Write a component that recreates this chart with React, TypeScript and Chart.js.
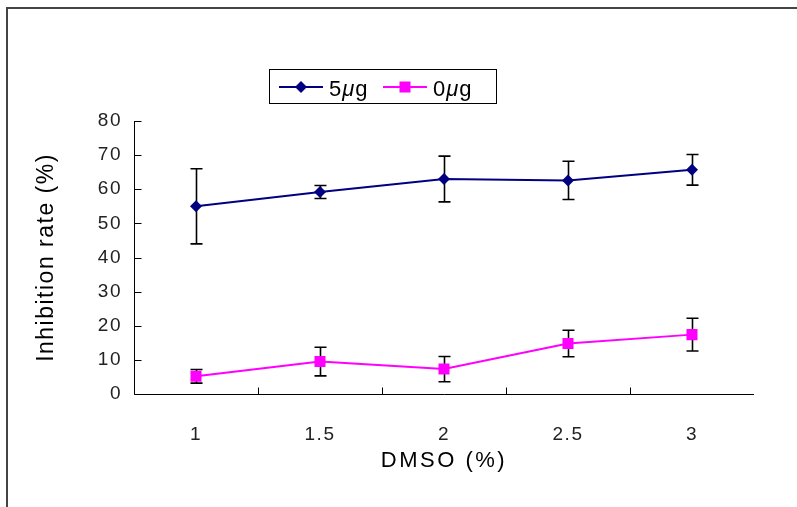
import React, { useEffect, useRef } from 'react';
import { Chart, registerables } from 'chart.js';

Chart.register(...registerables);

const categories = ['1', '1.5', '2', '2.5', '3'];
const seriesALabel = '5μg';
const seriesA = [55.0, 59.2, 63.0, 62.6, 65.7];
const seriesAErr = [11.0, 1.9, 6.7, 5.6, 4.5];
const seriesBLabel = '0μg';
const seriesB = [5.2, 9.5, 7.3, 14.8, 17.4];
const seriesBErr = [2.0, 4.2, 3.7, 3.9, 4.8];
const yMin = 0;
const yMax = 80;
const yStep = 10;
const yTitle = 'Inhibition rate (%)';
const xTitle = 'DMSO (%)';

const errors = [seriesAErr, seriesBErr];
const FONT = '"Liberation Sans", Arial, sans-serif';

const spacing = {
  id: 'spacing',
  beforeDraw(chart: any) {
    (chart.ctx as any).letterSpacing = '1.5px';
  },
  beforeDatasetsDraw(chart: any) {
    (chart.ctx as any).letterSpacing = '0px';
  },
};

const errorBars = {
  id: 'errorBars',
  beforeDatasetsDraw(chart: any) {
    const { ctx } = chart;
    const xs = chart.scales.x;
    const ys = chart.scales.y;
    ctx.save();
    ctx.strokeStyle = '#000';
    ctx.lineWidth = 1.6;
    chart.data.datasets.forEach((ds: any, di: number) => {
      ds.data.forEach((v: number, i: number) => {
        const e = errors[di][i];
        const px = Math.round(xs.getPixelForValue(i)) + 0.5;
        const top = ys.getPixelForValue(v + e);
        const bot = ys.getPixelForValue(v - e);
        ctx.beginPath();
        ctx.moveTo(px, top);
        ctx.lineTo(px, bot);
        ctx.moveTo(px - 6, top);
        ctx.lineTo(px + 6, top);
        ctx.moveTo(px - 6, bot);
        ctx.lineTo(px + 6, bot);
        ctx.stroke();
      });
    });
    ctx.restore();
  },
};

function drawMixed(ctx: CanvasRenderingContext2D, text: string, x: number, y: number, size: number) {
  let cx = x;
  for (const ch of text) {
    ctx.font = (ch === 'μ' ? 'italic ' : '') + size + 'px ' + FONT;
    ctx.fillText(ch, cx, y);
    cx += ctx.measureText(ch).width + 1;
  }
}

const decorations = {
  id: 'decorations',
  afterDraw(chart: any) {
    const { ctx, chartArea } = chart;
    const xs = chart.scales.x;
    const ys = chart.scales.y;
    ctx.save();
    (ctx as any).letterSpacing = '0px';
    // outer frame
    ctx.strokeStyle = '#444';
    ctx.lineWidth = 2;
    ctx.beginPath();
    ctx.moveTo(7, 520);
    ctx.lineTo(7, 8);
    ctx.lineTo(810, 8);
    ctx.stroke();

    // axes
    ctx.strokeStyle = '#000';
    ctx.lineWidth = 1;
    ctx.beginPath();
    const L = Math.round(chartArea.left) + 0.5;
    const B = Math.round(chartArea.bottom) + 0.5;
    ctx.moveTo(L, Math.round(chartArea.top));
    ctx.lineTo(L, B);
    ctx.lineTo(Math.round(chartArea.right), B);
    ys.ticks.forEach((t: any) => {
      const py = Math.round(ys.getPixelForValue(t.value)) + 0.5;
      ctx.moveTo(L, py);
      ctx.lineTo(L + 7, py);
    });
    for (let i = 0; i < categories.length - 1; i++) {
      const px = Math.round((xs.getPixelForValue(i) + xs.getPixelForValue(i + 1)) / 2) + 0.5;
      ctx.moveTo(px, B);
      ctx.lineTo(px, B - 7);
    }
    ctx.stroke();

    // titles
    ctx.fillStyle = '#000';
    (ctx as any).letterSpacing = '2.5px';
    ctx.font = '22px ' + FONT;
    ctx.textAlign = 'center';
    ctx.textBaseline = 'alphabetic';
    ctx.fillText(xTitle, (chartArea.left + chartArea.right) / 2, 467);
    ctx.save();
    (ctx as any).letterSpacing = '1.5px';
    ctx.translate(53, (chartArea.top + chartArea.bottom) / 2);
    ctx.rotate(-Math.PI / 2);
    ctx.font = '23px ' + FONT;
    ctx.fillText(yTitle, 0, 0);
    ctx.restore();
    (ctx as any).letterSpacing = '0px';

    // legend
    ctx.lineWidth = 1;
    ctx.strokeStyle = '#000';
    ctx.strokeRect(269.5, 69.5, 227, 34);
    const items = chart.data.datasets;
    const starts = [279, 383];
    items.forEach((ds: any, i: number) => {
      const x0 = starts[i];
      const ly = 87;
      ctx.strokeStyle = ds.borderColor;
      ctx.lineWidth = 2;
      ctx.beginPath();
      ctx.moveTo(x0, ly);
      ctx.lineTo(x0 + 44, ly);
      ctx.stroke();
      ctx.fillStyle = ds.pointBackgroundColor;
      const cx = x0 + 22;
      ctx.beginPath();
      if (ds.pointStyle === 'rectRot') {
        ctx.moveTo(cx, ly - 6);
        ctx.lineTo(cx + 6, ly);
        ctx.lineTo(cx, ly + 6);
        ctx.lineTo(cx - 6, ly);
        ctx.closePath();
      } else {
        ctx.rect(cx - 5.5, ly - 5.5, 11, 11);
      }
      ctx.fill();
      ctx.fillStyle = '#000';
      ctx.textAlign = 'left';
      drawMixed(ctx, ds.label, x0 + 50, 96, 22);
    });
    ctx.restore();
  },
};

export default function App() {
  const ref = useRef<HTMLCanvasElement | null>(null);
  useEffect(() => {
    if (!ref.current) return;
    const chart = new Chart(ref.current, {
      type: 'line',
      data: {
        labels: categories,
        datasets: [
          {
            label: seriesALabel,
            data: seriesA,
            borderColor: '#000080',
            backgroundColor: '#000080',
            pointBackgroundColor: '#000080',
            pointBorderColor: '#000080',
            pointStyle: 'rectRot',
            pointRadius: 6,
            pointBorderWidth: 0,
            borderWidth: 2,
            tension: 0,
          },
          {
            label: seriesBLabel,
            data: seriesB,
            borderColor: '#FF00FF',
            backgroundColor: '#FF00FF',
            pointBackgroundColor: '#FF00FF',
            pointBorderColor: '#FF00FF',
            pointStyle: 'rect',
            pointRadius: 7.8,
            pointBorderWidth: 0,
            borderWidth: 2,
            tension: 0,
          },
        ],
      },
      options: {
        responsive: false,
        animation: false,
        layout: { padding: { top: 121, right: 43, left: 0, bottom: 0 } },
        plugins: {
          legend: { display: false },
          tooltip: { enabled: false },
        },
        scales: {
          x: {
            type: 'category',
            offset: true,
            grid: { display: false },
            border: { display: false },
            ticks: { color: '#222', font: { size: 19, family: FONT }, padding: 21 },
            afterFit: (s: any) => { s.height = 113; },
          },
          y: {
            min: yMin,
            max: yMax,
            grid: { display: false },
            border: { display: false },
            ticks: { stepSize: yStep, color: '#222', font: { size: 19, family: FONT }, padding: 4 },
            afterFit: (s: any) => { s.width = 134; },
          },
        },
      },
      plugins: [spacing, errorBars, decorations],
    });
    return () => chart.destroy();
  }, []);
  return (
    <div style={{ position: 'fixed', left: 0, top: 0, width: 797, height: 507, background: '#fff' }}>
      <canvas ref={ref} width={797} height={507} />
    </div>
  );
}
